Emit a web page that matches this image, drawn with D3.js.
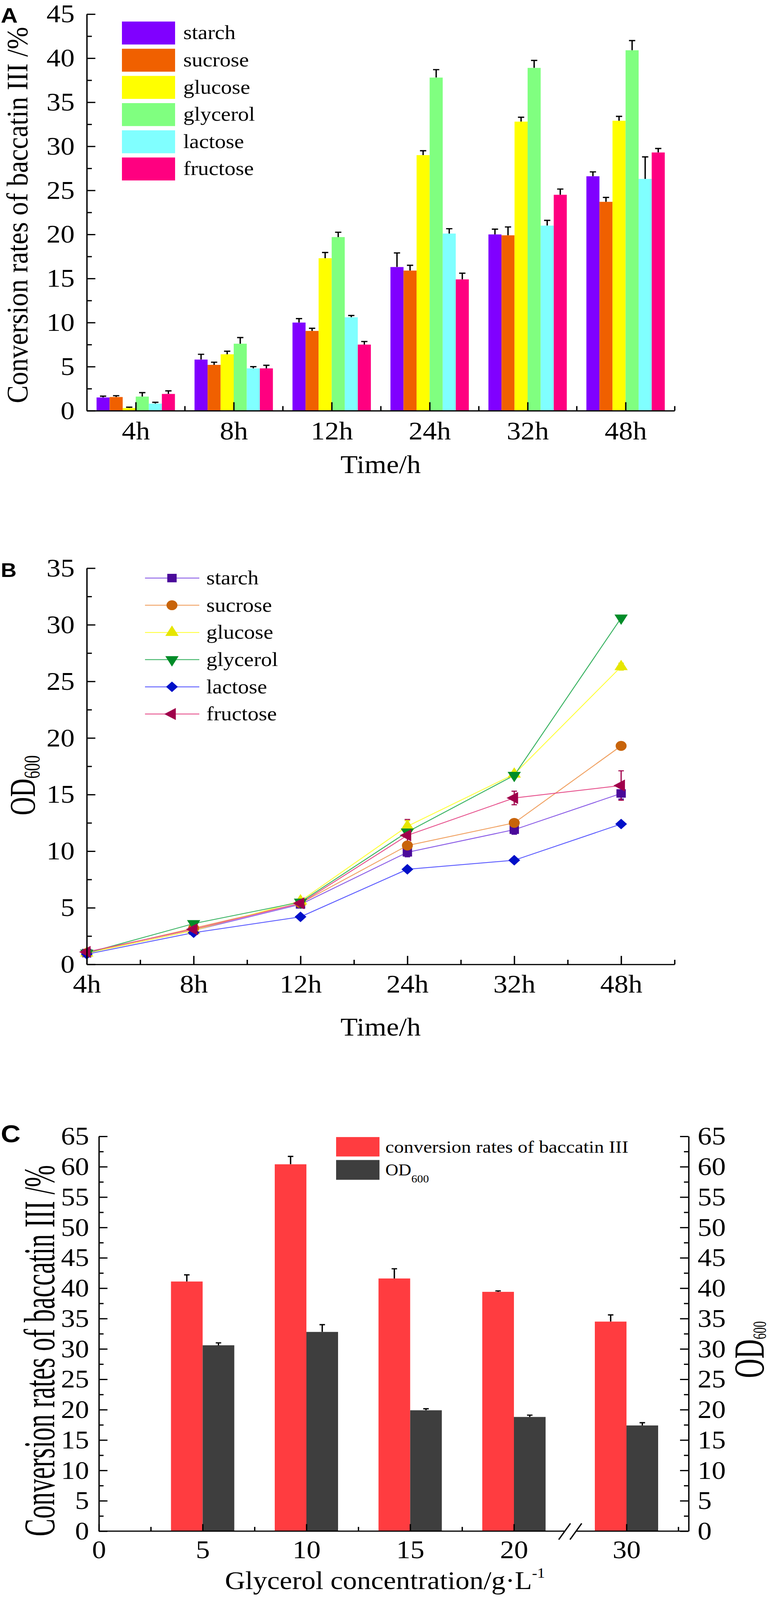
<!DOCTYPE html>
<html>
<head>
<meta charset="utf-8">
<script src="https://cdn.jsdelivr.net/npm/d3@7"></script>
<style>
  html, body { margin: 0; padding: 0; background: #fff; overflow: hidden; }
  svg { display: block; }
</style>
</head>
<body>
<div id="viz"></div>
<script>
// ---- shared categories ----
const times = ["4h", "8h", "12h", "24h", "32h", "48h"]
const sugars = ["starch", "sucrose", "glucose", "glycerol", "lactose", "fructose"]

// ---- panel A: conversion rates of baccatin III (%) ----
const convStarch   = [1.5, 5.8, 10.0, 16.3, 20.0, 26.6]
const convSucrose  = [1.55, 5.2, 9.05, 15.9, 19.9, 23.7]
const convGlucose  = [0.3, 6.4, 17.3, 29.0, 32.8, 32.9]
const convGlycerol = [1.6, 7.6, 19.7, 37.8, 38.9, 40.9]
const convLactose  = [0.8, 4.8, 10.6, 20.1, 21.0, 26.3]
const convFructose = [1.9, 4.8, 7.5, 14.9, 24.5, 29.3]
const errStarch    = [0.15, 0.6, 0.45, 1.6, 0.6, 0.5]
const errSucrose   = [0.15, 0.3, 0.3, 0.6, 0.95, 0.5]
const errGlucose   = [0.1, 0.35, 0.65, 0.5, 0.5, 0.5]
const errGlycerol  = [0.45, 0.7, 0.55, 0.9, 0.85, 1.1]
const errLactose   = [0.15, 0.2, 0.2, 0.55, 0.6, 2.5]
const errFructose  = [0.35, 0.35, 0.35, 0.7, 0.65, 0.45]
const yTicksA = [0, 5, 10, 15, 20, 25, 30, 35, 40, 45]

// ---- panel B: OD600 ----
const odStarch   = [1.0, 3.0, 5.3, 9.9, 11.9, 15.1]
const odSucrose  = [1.0, 3.2, 5.4, 10.5, 12.5, 19.3]
const odGlucose  = [1.0, 3.0, 5.6, 12.2, 16.8, 26.3]
const odGlycerol = [1.0, 3.6, 5.5, 11.7, 16.7, 30.6]
const odLactose  = [0.9, 2.8, 4.2, 8.4, 9.2, 12.4]
const odFructose = [1.1, 3.1, 5.4, 11.4, 14.7, 15.8]
const odErrStarch   = [0.1, 0.1, 0.2, 0.4, 0.4, 0.5]
const odErrSucrose  = [0.1, 0.1, 0.1, 0.3, 0.3, 0.2]
const odErrGlucose  = [0.1, 0.2, 0.2, 0.5, 0.2, 0.3]
const odErrGlycerol = [0.1, 0.2, 0.2, 0.3, 0.2, 0.2]
const odErrLactose  = [0.05, 0.1, 0.1, 0.2, 0.2, 0.2]
const odErrFructose = [0.2, 0.1, 0.2, 1.4, 0.6, 1.3]
const yTicksB = [0, 5, 10, 15, 20, 25, 30, 35]

// ---- panel C: glycerol concentration ----
const glycerolConc = [5, 10, 15, 20, 30]
const convByConc   = [41.1, 60.4, 41.6, 39.4, 34.5]
const convByConcErr = [1.1, 1.3, 1.6, 0.15, 1.1]
const odByConc     = [30.6, 32.8, 19.9, 18.8, 17.4]
const odByConcErr  = [0.4, 1.2, 0.25, 0.3, 0.45]
const xTicksC = [0, 5, 10, 15, 20, 30]
const yTicksC = [0, 5, 10, 15, 20, 25, 30, 35, 40, 45, 50, 55, 60, 65]

const barColors = ["#8000ff", "#f06000", "#ffff00", "#80ff80", "#80ffff", "#ff0080"]
const lineColors = ["#8a5ce6", "#f0a060", "#ffff40", "#3cb464", "#5a5aff", "#e6508c"]
const markColors = ["#4a0a9a", "#c8640a", "#e6e600", "#008c28", "#0010c8", "#a0004b"]

const serif = "'Liberation Serif', 'Times New Roman', serif"
const sans = "'Liberation Sans', Arial, sans-serif"

// the drawing is laid out on a 1983 x 4531 grid and stretched to fill the window
const svg = d3.select("#viz").append("svg")
    .attr("viewBox", "0 0 1983 4531")
    .attr("preserveAspectRatio", "none")
    .style("width", "100vw")
    .style("height", "100vh")
svg.append("rect").attr("width", 1983).attr("height", 4531).attr("fill", "#fff")

function styleAxis(g, fs) {
    g.attr("font-family", serif)
    g.selectAll("path, line").attr("stroke", "#000").attr("stroke-width", 3.5)
    g.selectAll("text").attr("font-size", fs).attr("fill", "#000")
    return g
}

function panelLabel(txt, y, fs) {
    svg.append("text").attr("x", 2).attr("y", y).attr("font-family", sans)
        .attr("font-weight", "bold").attr("font-size", fs).text(txt)
}

// ================= PANEL A =================
const tableA = [
    {name: sugars[0], vals: convStarch, errs: errStarch},
    {name: sugars[1], vals: convSucrose, errs: errSucrose},
    {name: sugars[2], vals: convGlucose, errs: errGlucose},
    {name: sugars[3], vals: convGlycerol, errs: errGlycerol},
    {name: sugars[4], vals: convLactose, errs: errLactose},
    {name: sugars[5], vals: convFructose, errs: errFructose},
].map((d, i) => ({...d, color: barColors[i]}))

const xA = d3.scaleBand().domain(times).range([222, 1726]).paddingInner(0.2).paddingOuter(0.1)
const xAin = d3.scaleBand().domain(sugars).range([0, xA.bandwidth()])
const xAlin = d3.scaleLinear().domain([0, 6]).range([222, 1726])
const yA = d3.scaleLinear().domain([0, 45]).range([1163, 40])

const cellsA = tableA.flatMap(s => times.map((t, j) => ({s, t, v: s.vals[j], e: s.errs[j]})))
const gA = svg.append("g")

gA.selectAll("path.err").data(cellsA).join("path")
    .attr("d", d => {
        const cx = xA(d.t) + xAin(d.s.name) + xAin.bandwidth() / 2
        return `M${cx},${yA(d.v)}V${yA(d.v + d.e)}M${cx - 8},${yA(d.v + d.e)}H${cx + 8}`
    })
    .attr("stroke", "#000").attr("stroke-width", 3.5).attr("fill", "none")

gA.selectAll("rect.bar").data(cellsA).join("rect")
    .attr("x", d => xA(d.t) + xAin(d.s.name))
    .attr("y", d => yA(d.v))
    .attr("width", xAin.bandwidth())
    .attr("height", d => yA(0) - yA(d.v))
    .attr("fill", d => d.s.color)

styleAxis(gA.append("g").attr("transform", "translate(222,0)")
    .call(d3.axisLeft(yA).tickValues(yTicksA).tickSize(-22).tickSizeOuter(0).tickPadding(31)), 72)
styleAxis(gA.append("g").attr("transform", "translate(222,0)")
    .call(d3.axisLeft(yA).tickValues(yTicksA.slice(0, -1).map(v => v + 2.5)).tickSize(-13).tickFormat(""))
    .call(g => g.select(".domain").remove()), 72)

const axA = gA.append("g").attr("transform", "translate(0,1163)")
    .call(d3.axisBottom(xAlin).tickValues([0.5, 1.5, 2.5, 3.5, 4.5, 5.5])
        .tickFormat((d, i) => times[i]).tickSize(-24).tickSizeOuter(0))
styleAxis(axA, 72).selectAll("text").attr("y", 81).attr("dy", 0)
styleAxis(gA.append("g").attr("transform", "translate(0,1163)")
    .call(d3.axisBottom(xAlin).tickValues([1, 2, 3, 4, 5, 6]).tickSize(-13).tickFormat(""))
    .call(g => g.select(".domain").remove()), 72)

gA.append("text").attr("transform", "translate(70,609) rotate(-90)")
    .attr("text-anchor", "middle").attr("font-family", serif).attr("font-size", 76)
    .text("Conversion rates of baccatin III /%")
gA.append("text").attr("x", 974).attr("y", 1340).attr("text-anchor", "middle")
    .attr("font-family", serif).attr("font-size", 72).text("Time/h")

const legA = gA.append("g").selectAll("g").data(tableA).join("g")
    .attr("transform", (d, i) => `translate(312,${61 + i * 77})`)
legA.append("rect").attr("width", 136).attr("height", 65).attr("fill", d => d.color)
legA.append("text").attr("x", 157).attr("y", 50).attr("font-family", serif)
    .attr("font-size", 56).text(d => d.name)

panelLabel("A", 64, 60)

// ================= PANEL B =================
const symbolsB = [
    {type: d3.symbolSquare, size: 576, rot: 0},
    {type: d3.symbolCircle, size: 615, rot: 0},
    {type: d3.symbolTriangle, size: 500, rot: 0},
    {type: d3.symbolTriangle, size: 500, rot: 180},
    {type: d3.symbolDiamond2, size: 576, rot: 0},
    {type: d3.symbolTriangle, size: 500, rot: -90},
]
const tableB = [
    {name: sugars[0], vals: odStarch, errs: odErrStarch},
    {name: sugars[1], vals: odSucrose, errs: odErrSucrose},
    {name: sugars[2], vals: odGlucose, errs: odErrGlucose},
    {name: sugars[3], vals: odGlycerol, errs: odErrGlycerol},
    {name: sugars[4], vals: odLactose, errs: odErrLactose},
    {name: sugars[5], vals: odFructose, errs: odErrFructose},
].map((d, i) => ({...d, line: lineColors[i], mark: markColors[i], sym: symbolsB[i]}))

const xB = d3.scaleLinear().domain([0, 5.5]).range([222, 1726])
const yB = d3.scaleLinear().domain([0, 35]).range([2731, 1609])
const gB = svg.append("g")

const lineB = d3.line().x((d, j) => xB(j)).y(d => yB(d))
gB.selectAll("path.series").data(tableB).join("path")
    .attr("d", d => lineB(d.vals))
    .attr("fill", "none").attr("stroke", d => d.line).attr("stroke-width", 2.5)

const ptsB = tableB.flatMap(s => s.vals.map((v, j) => ({s, j, v, e: s.errs[j]})))
gB.selectAll("path.err").data(ptsB).join("path")
    .attr("d", d => {
        const cx = xB(d.j), t = yB(d.v + d.e), b = yB(d.v - d.e)
        return `M${cx},${b}V${t}M${cx - 7},${t}H${cx + 7}M${cx - 7},${b}H${cx + 7}`
    })
    .attr("stroke", d => d.s.mark).attr("stroke-width", 3).attr("fill", "none")

gB.selectAll("path.mark").data(ptsB).join("path")
    .attr("d", d => d3.symbol(d.s.sym.type, d.s.sym.size)())
    .attr("transform", d => `translate(${xB(d.j)},${yB(d.v)}) rotate(${d.s.sym.rot})`)
    .attr("fill", d => d.s.mark)

styleAxis(gB.append("g").attr("transform", "translate(222,0)")
    .call(d3.axisLeft(yB).tickValues(yTicksB).tickSize(-22).tickSizeOuter(0).tickPadding(31)), 72)
styleAxis(gB.append("g").attr("transform", "translate(222,0)")
    .call(d3.axisLeft(yB).tickValues(yTicksB.slice(0, -1).map(v => v + 2.5)).tickSize(-13).tickFormat(""))
    .call(g => g.select(".domain").remove()), 72)

const axB = gB.append("g").attr("transform", "translate(0,2731)")
    .call(d3.axisBottom(xB).tickValues([0, 1, 2, 3, 4, 5])
        .tickFormat((d, i) => times[i]).tickSize(-24).tickSizeOuter(0))
styleAxis(axB, 72).selectAll("text").attr("y", 80).attr("dy", 0)
styleAxis(gB.append("g").attr("transform", "translate(0,2731)")
    .call(d3.axisBottom(xB).tickValues([0.5, 1.5, 2.5, 3.5, 4.5, 5.5]).tickSize(-13).tickFormat(""))
    .call(g => g.select(".domain").remove()), 72)

const odTitleB = gB.append("text").attr("transform", "translate(89,2224) rotate(-90) scale(1,1.3)")
    .attr("text-anchor", "middle").attr("font-family", serif).attr("font-size", 72)
odTitleB.append("tspan").text("OD")
odTitleB.append("tspan").attr("font-size", 44).attr("dy", 9).text("600")
gB.append("text").attr("x", 974).attr("y", 2932).attr("text-anchor", "middle")
    .attr("font-family", serif).attr("font-size", 72).text("Time/h")

const legB = gB.append("g").selectAll("g").data(tableB).join("g")
    .attr("transform", (d, i) => `translate(371,${1637 + i * 77})`)
legB.append("line").attr("x1", 0).attr("x2", 139).attr("stroke", d => d.line).attr("stroke-width", 2.5)
legB.append("path").attr("d", d => d3.symbol(d.sym.type, d.sym.size)())
    .attr("transform", d => `translate(69,0) rotate(${d.sym.rot})`).attr("fill", d => d.mark)
legB.append("text").attr("x", 157).attr("y", 18).attr("font-family", serif)
    .attr("font-size", 56).text(d => d.name)

panelLabel("B", 1634, 56)

// ================= PANEL C =================
const xC = d3.scaleLinear().domain([0, 20, 30, 33]).range([253, 1315, 1603, 1762])
const yC = d3.scaleLinear().domain([0, 65]).range([4336, 3218])
const gC = svg.append("g")
const redC = "#ff3c40", darkC = "#3e3e3e"

const cellsC = glycerolConc.flatMap((c, i) => [
    {c, v: convByConc[i], e: convByConcErr[i], color: redC, side: -1},
    {c, v: odByConc[i], e: odByConcErr[i], color: darkC, side: 1},
])
const bwC = 81
gC.selectAll("path.err").data(cellsC).join("path")
    .attr("d", d => {
        const cx = xC(d.c) + d.side * bwC / 2
        return `M${cx},${yC(d.v)}V${yC(d.v + d.e)}M${cx - 7},${yC(d.v + d.e)}H${cx + 7}`
    })
    .attr("stroke", "#000").attr("stroke-width", 3.5).attr("fill", "none")
gC.selectAll("rect.bar").data(cellsC).join("rect")
    .attr("x", d => d.side < 0 ? xC(d.c) - bwC : xC(d.c))
    .attr("y", d => yC(d.v))
    .attr("width", bwC)
    .attr("height", d => yC(0) - yC(d.v))
    .attr("fill", d => d.color)

const minorC = yTicksC.slice(0, -1).map(v => v + 2.5)
styleAxis(gC.append("g").attr("transform", `translate(${xC(0)},0)`)
    .call(d3.axisLeft(yC).tickValues(yTicksC).tickSize(-22).tickSizeOuter(0).tickPadding(25)), 72)
styleAxis(gC.append("g").attr("transform", `translate(${xC(0)},0)`)
    .call(d3.axisLeft(yC).tickValues(minorC).tickSize(-12).tickFormat(""))
    .call(g => g.select(".domain").remove()), 72)
styleAxis(gC.append("g").attr("transform", `translate(${xC(33)},0)`)
    .call(d3.axisRight(yC).tickValues(yTicksC).tickSize(-22).tickSizeOuter(0).tickPadding(23)), 72)
styleAxis(gC.append("g").attr("transform", `translate(${xC(33)},0)`)
    .call(d3.axisRight(yC).tickValues(minorC).tickSize(-12).tickFormat(""))
    .call(g => g.select(".domain").remove()), 72)

const axC = gC.append("g").attr("transform", `translate(0,${yC(0)})`)
    .call(d3.axisBottom(xC).tickValues(xTicksC).tickFormat(d3.format("d")).tickSize(-20).tickSizeOuter(0))
    .call(g => g.select(".domain").remove())
styleAxis(axC, 72).selectAll("text").attr("y", 77).attr("dy", 0)
styleAxis(gC.append("g").attr("transform", `translate(0,${yC(0)})`)
    .call(d3.axisBottom(xC).tickValues([2.5, 7.5, 12.5, 17.5, 32.5]).tickSize(-12).tickFormat(""))
    .call(g => g.select(".domain").remove()), 72)

// broken x axis with // marks
const breakAt = [24.5, 25.5]
gC.append("path")
    .attr("d", `M${xC(0)},${yC(0)}H${xC(breakAt[0])}M${xC(breakAt[1])},${yC(0)}H${xC(33)}`)
    .attr("stroke", "#000").attr("stroke-width", 3.5)
gC.selectAll("path.brk").data(breakAt).join("path")
    .attr("d", d => `M${xC(d) - 15},${yC(0) + 24}L${xC(d) + 15},${yC(0) - 22}`)
    .attr("stroke", "#000").attr("stroke-width", 3.5)

gC.append("text").attr("transform", "translate(139,3825) rotate(-90) scale(1,1.5)")
    .attr("text-anchor", "middle").attr("font-family", serif).attr("font-size", 75)
    .text("Conversion rates of baccatin III /%")
const odTitleC = gC.append("text").attr("transform", "translate(1954,3822) rotate(-90) scale(1,1.45)")
    .attr("text-anchor", "middle").attr("font-family", serif).attr("font-size", 76)
odTitleC.append("tspan").text("OD")
odTitleC.append("tspan").attr("font-size", 34).attr("dy", 4).text("600")

const xTitleC = gC.append("text").attr("x", 985).attr("y", 4500).attr("text-anchor", "middle")
    .attr("font-family", serif).attr("font-size", 72)
xTitleC.append("tspan").text("Glycerol concentration/g·L")
xTitleC.append("tspan").attr("font-size", 40).attr("dy", -32).text("-1")

const legC = gC.append("g").attr("transform", "translate(860,3220)")
legC.append("rect").attr("width", 111).attr("height", 55).attr("fill", redC)
legC.append("rect").attr("y", 65).attr("width", 111).attr("height", 56).attr("fill", darkC)
legC.append("text").attr("x", 126).attr("y", 44).attr("font-family", serif)
    .attr("font-size", 50).text("conversion rates of baccatin III")
const legOd = legC.append("text").attr("x", 126).attr("y", 109).attr("font-family", serif).attr("font-size", 46)
legOd.append("tspan").text("OD")
legOd.append("tspan").attr("font-size", 30).attr("dy", 20).text("600")

panelLabel("C", 3235, 70)
</script>
</body>
</html>
